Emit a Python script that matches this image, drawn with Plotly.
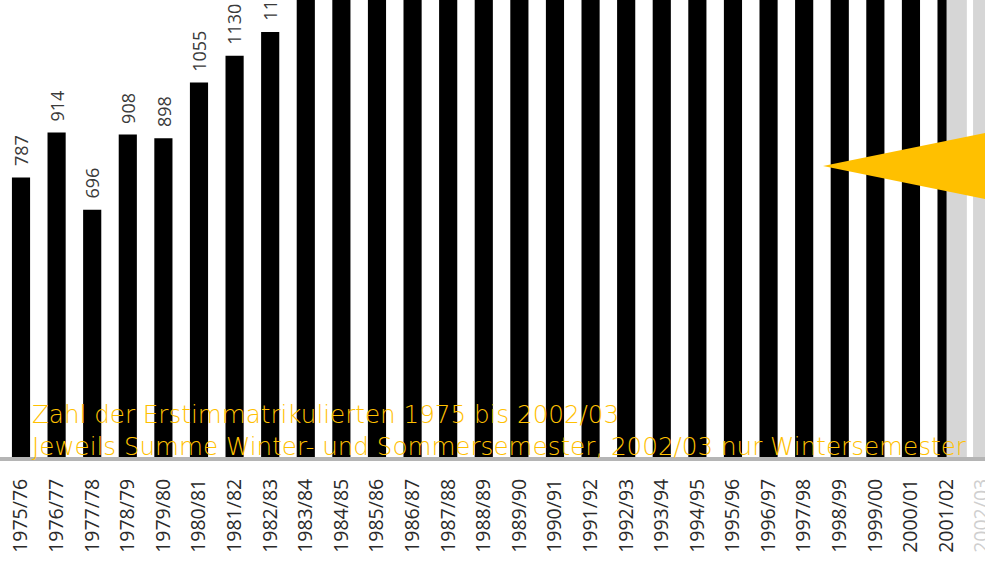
import plotly.graph_objects as go

categories = ["1975/76", "1976/77", "1977/78", "1978/79", "1979/80", "1980/81", "1981/82",
              "1982/83", "1983/84", "1984/85", "1985/86", "1986/87", "1987/88", "1988/89",
              "1989/90", "1990/91", "1991/92", "1992/93", "1993/94", "1994/95", "1995/96",
              "1996/97", "1997/98", "1998/99", "1999/00", "2000/01", "2001/02", "2002/03"]
# values above ~1290 are cut off by the top edge in the reference (estimated)
values = [787, 914, 696, 908, 898, 1055, 1130, 1197, 1300, 1420, 1480, 1530, 1610, 1700,
          1780, 1850, 1900, 1950, 2000, 2050, 2100, 2150, 2200, 2250, 2300, 2350, 2400, 2200]
highlight_last = True

title_line1 = "Zahl der Erstimmatrikulierten 1975 bis 2002/03"
title_line2 = "Jeweils Summe Winter- und Sommersemester, 2002/03 nur Wintersemester"

n = len(categories)
xs = list(range(n))
colors = ["#000000"] * n
if highlight_last:
    colors[-1] = "#d6d6d6"

ticktext = [c for c in categories]
ticktext[-1] = '<span style="color:#cfcfcf">' + categories[-1] + '</span>'

YELLOW = "#FFC000"
FONT = "Open Sans"

fig = go.Figure()
fig.add_trace(go.Bar(x=xs, y=values, marker=dict(color=colors, line=dict(width=0)),
                     width=0.51, hoverinfo="skip"))

annotations = []
for x, v in zip(xs, values):
    annotations.append(dict(x=x, y=v, xref="x", yref="y", text=str(v), showarrow=False,
                            textangle=-90, yanchor="bottom", xanchor="center", yshift=9,
                            font=dict(family=FONT, size=18, color="#3a3a3a")))
annotations.append(dict(xref="paper", yref="paper", x=30/985, y=1 - 398/457,
                        xanchor="left", yanchor="top", align="left", showarrow=False,
                        text=title_line1 + "<br>" + title_line2,
                        font=dict(family="DejaVu Sans", size=24.6, color=YELLOW, weight=300)))

shapes = [
    # light grey band over right part of 2001/02
    dict(type="rect", xref="x", yref="paper", x0=26.0, x1=26.57, y0=0, y1=1,
         fillcolor="#d6d6d6", line=dict(width=0), layer="above"),
    # yellow pointer triangle
    dict(type="path", xref="paper", yref="paper",
         path="M %f %f L %f %f L %f %f Z" % (823/985, 1 - 166/457, 1.0, 1 - 133/457, 1.0, 1 - 199/457),
         fillcolor=YELLOW, line=dict(width=0), layer="above"),
]

fig.update_layout(
    width=985, height=563,
    margin=dict(l=0, r=0, t=0, b=106, autoexpand=False),
    paper_bgcolor="white", plot_bgcolor="white",
    showlegend=False,
    annotations=annotations,
    shapes=shapes,
    xaxis=dict(range=[-0.59, 27.08], tickmode="array", tickvals=xs, ticktext=ticktext,
               tickangle=-90, ticks="", showgrid=False, zeroline=False,
               showline=True, linecolor="#b5b5b5", linewidth=4, automargin=False,
               ticklabelstandoff=10, ticklabeloverflow="allow",
               tickfont=dict(family=FONT, size=19.5, color="#2a2a2a")),
    yaxis=dict(range=[0, 1287], visible=False, showgrid=False, zeroline=False),
)

fig.write_html("out.html")
